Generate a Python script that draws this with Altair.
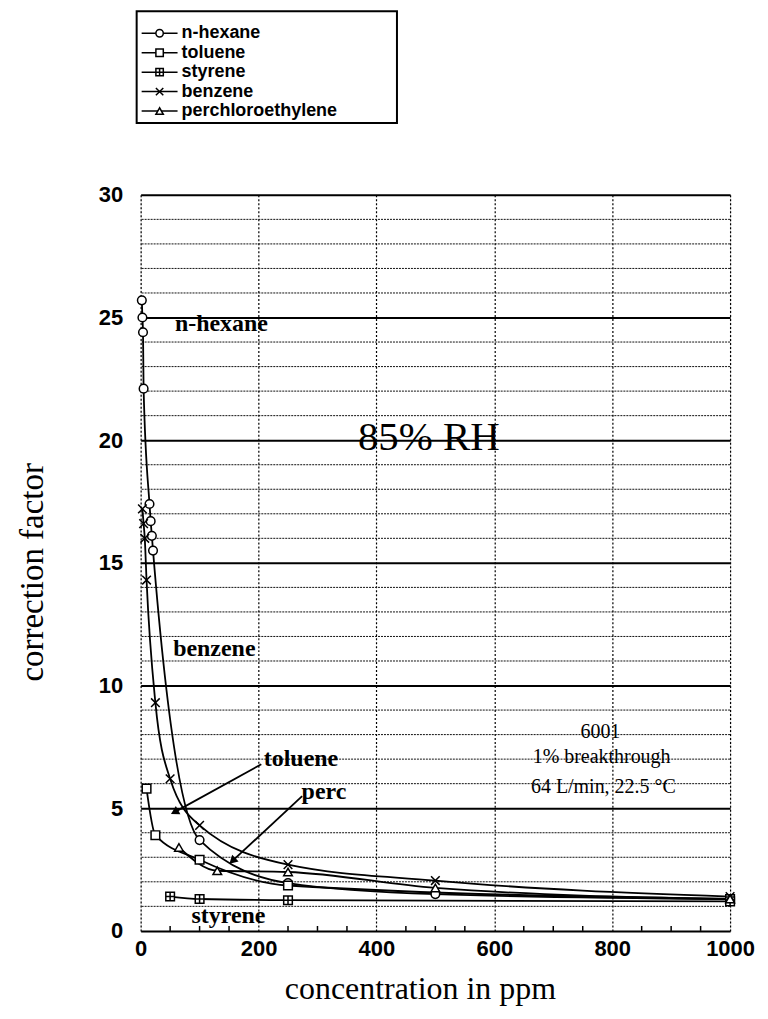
import altair as alt
import pandas as pd

# ---------------- data ----------------
series_names = ["n-hexane", "toluene", "styrene", "benzene", "perchloroethylene"]

hexane_conc = [2, 3, 4, 5, 15, 17, 19, 21, 100, 250, 500, 1000]
hexane_cf = [25.7, 25.0, 24.4, 22.1, 17.4, 16.7, 16.1, 15.5, 3.7, 1.95, 1.5, 1.3]

toluene_conc = [10, 25, 100, 250, 1000]
toluene_cf = [5.8, 3.9, 2.9, 1.85, 1.3]

styrene_conc = [50, 100, 250, 1000]
styrene_cf = [1.4, 1.3, 1.25, 1.2]

benzene_conc = [3, 5, 7, 10, 25, 50, 100, 250, 500, 1000]
benzene_cf = [17.2, 16.6, 16.0, 14.3, 9.3, 6.2, 4.3, 2.7, 2.05, 1.4]

perc_conc = [65, 130, 250, 500, 1000]
perc_cf = [3.4, 2.45, 2.4, 1.75, 1.3]

y_major = [0, 5, 10, 15, 20, 25, 30]
y_minor = [1, 2, 3, 4, 6, 7, 8, 9, 11, 12, 13, 14, 16, 17, 18, 19,
           21, 22, 23, 24, 26, 27, 28, 29]
x_major = [0, 200, 400, 600, 800, 1000]
x_minor = [50, 100, 150, 250, 300, 350, 450, 500, 550, 650, 700, 750,
           850, 900, 950]

# annotation texts (in data coordinates)
label_text = ["n-hexane", "benzene", "toluene", "perc", "styrene"]
label_x = [137, 125, 272, 311, 149]
label_y = [24.75, 11.5, 7.0, 5.65, 0.6]

note_text = ["6001", "1% breakthrough", "64 L/min, 22.5 °C"]
note_x = [780, 782, 785]
note_y = [8.1, 7.1, 5.85]

arrow_x = [204.7, 274]
arrow_y = [6.79, 5.49]
arrow_x2 = [57.5, 155.7]
arrow_y2 = [4.84, 2.85]
arrow_angle = [241, 227]

# ---------------- styling ----------------
W, H = 591, 738
SANS = "Liberation Sans"
SERIF = "Liberation Serif"
SQUARE_PLUS = "M-1,-1H1V1H-1Z M0,-1V1 M-1,0H1"
XSHAPE = "M-1,-1L1,1M-1,1L1,-1"
shape_range = ["circle", "square", SQUARE_PLUS, XSHAPE, "triangle-up"]

rows = []
for name, xs_, ys_ in [
    ("n-hexane", hexane_conc, hexane_cf),
    ("toluene", toluene_conc, toluene_cf),
    ("styrene", styrene_conc, styrene_cf),
    ("benzene", benzene_conc, benzene_cf),
    ("perchloroethylene", perc_conc, perc_cf),
]:
    for xv, yv in zip(xs_, ys_):
        rows.append({"series": name, "conc": xv, "cf": yv})
df = pd.DataFrame(rows)

xs = alt.Scale(domain=[0, 1000], nice=False, zero=False)
ys = alt.Scale(domain=[0, 30], nice=False, zero=False)

x_axis = alt.Axis(
    values=x_major, format="d", grid=True, gridColor="black", gridDash=[2, 2], gridWidth=1.2,
    ticks=False, domain=False, labelFont=SANS, labelFontWeight="bold",
    labelFontSize=22, labelColor="black", labelPadding=8, labelFlush=False,
    title="concentration in ppm", titleFont=SERIF, titleFontSize=32,
    titleFontWeight="normal", titleColor="black", titleX=280,
    titleY=58, titleBaseline="middle",
)
y_axis = alt.Axis(
    values=y_major, grid=True, gridColor="black", gridWidth=2,
    ticks=False, domain=False, labelFont=SANS, labelFontWeight="bold",
    labelFontSize=22, labelColor="black", labelPadding=18,
    title="correction factor", titleFont=SERIF, titleFontSize=33,
    titleFontWeight="normal", titleColor="black", titleX=33 - 141,
    titleY=572 - 194, titleBaseline="middle",
)

base = alt.Chart(df)

lines = base.mark_line(interpolate="monotone", color="black", strokeWidth=1.8).encode(
    x=alt.X("conc:Q", scale=xs, axis=x_axis),
    y=alt.Y("cf:Q", scale=ys, axis=y_axis),
    detail="series:N",
)

points = base.mark_point(
    fill="white", stroke="black", strokeWidth=1.5, size=75, opacity=1, fillOpacity=1
).encode(
    x=alt.X("conc:Q", scale=xs),
    y=alt.Y("cf:Q", scale=ys),
    shape=alt.Shape("series:N", scale=alt.Scale(domain=series_names, range=shape_range), legend=None),
)

minor_grid = alt.Chart(pd.DataFrame({"v": y_minor})).mark_rule(
    color="#111", strokeWidth=1, strokeDash=[2, 1]
).encode(y=alt.Y("v:Q", scale=ys))

minor_ticks = alt.Chart(pd.DataFrame({"v": x_minor})).mark_rule(
    color="black", strokeWidth=1.5
).encode(x=alt.X("v:Q", scale=xs), y=alt.datum(0), y2=alt.datum(0.2))

labels_df = pd.DataFrame({"t": label_text, "x": label_x, "y": label_y})
labels = alt.Chart(labels_df).mark_text(
    font=SERIF, fontSize=24, fontWeight="bold", color="black", align="center", baseline="middle"
).encode(x=alt.X("x:Q", scale=xs), y=alt.Y("y:Q", scale=ys), text="t:N")

notes_df = pd.DataFrame({"t": note_text, "x": note_x, "y": note_y})
notes = alt.Chart(notes_df).mark_text(
    font=SERIF, fontSize=20, color="black", align="center", baseline="middle"
).encode(x=alt.X("x:Q", scale=xs), y=alt.Y("y:Q", scale=ys), text="t:N")

rh = alt.Chart(pd.DataFrame({"t": ["85% RH"], "x": [489], "y": [20.1]})).mark_text(
    font=SERIF, fontSize=41, color="black", align="center", baseline="middle"
).encode(x=alt.X("x:Q", scale=xs), y=alt.Y("y:Q", scale=ys), text="t:N")

arrows_df = pd.DataFrame({"x": arrow_x, "y": arrow_y, "x2": arrow_x2, "y2": arrow_y2, "a": arrow_angle})
arrow_lines = alt.Chart(arrows_df).mark_rule(color="black", strokeWidth=1.8).encode(
    x=alt.X("x:Q", scale=xs), y=alt.Y("y:Q", scale=ys), x2="x2:Q", y2="y2:Q"
)
arrow_heads = alt.Chart(arrows_df).mark_point(
    shape="triangle-up", filled=True, color="black", size=90, opacity=1
).encode(x=alt.X("x2:Q", scale=xs), y=alt.Y("y2:Q", scale=ys), angle=alt.Angle("a:Q", scale=None))

# ---------------- legend (hand-built, above the plot) ----------------
legend_rows_y = [-162, -142.5, -123, -103.5, -84]
one = pd.DataFrame({"k": [0]})
legend_layers = [
    alt.Chart(one).mark_rect(fill="white", stroke="black", strokeWidth=2).encode(
        x=alt.value(-4), x2=alt.value(257), y=alt.value(-184), y2=alt.value(-72)
    )
]
for name, shp, ly in zip(series_names, shape_range, legend_rows_y):
    legend_layers.append(
        alt.Chart(one).mark_rule(color="black", strokeWidth=1.5).encode(
            x=alt.value(1), x2=alt.value(37), y=alt.value(ly)
        )
    )
    legend_layers.append(
        alt.Chart(one).mark_point(
            shape=shp, fill="white", stroke="black", strokeWidth=1.5, size=55, opacity=1, fillOpacity=1
        ).encode(x=alt.value(19), y=alt.value(ly))
    )
    legend_layers.append(
        alt.Chart(one).mark_text(
            text=name, font=SANS, fontSize=18, fontWeight="bold", color="black",
            align="left", baseline="middle", limit=214, ellipsis=""
        ).encode(x=alt.value(41), y=alt.value(ly))
    )

chart = alt.layer(
    minor_grid, minor_ticks, lines, points, labels, notes, rh, arrow_lines, arrow_heads,
    *legend_layers
).properties(
    width=W, height=H,
    autosize=alt.AutoSizeParams(type="none"),
    padding={"left": 133, "top": 186, "right": 30, "bottom": 79},
).configure_view(stroke="black", strokeWidth=2).configure(background="white")

chart.save("out.html", embed_options={"renderer": "svg", "actions": False})
